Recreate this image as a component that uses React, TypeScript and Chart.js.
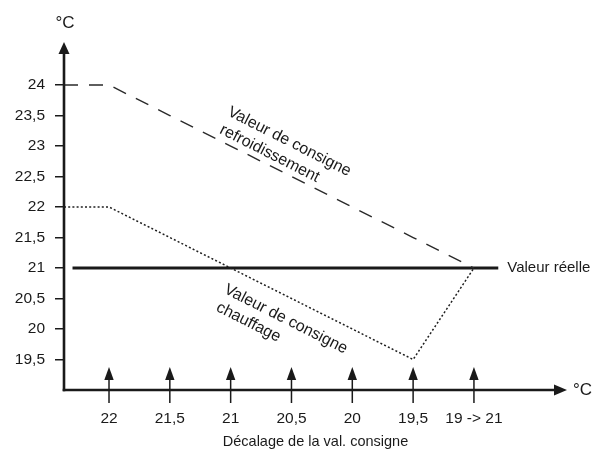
import React, { useEffect, useRef } from "react";
import { Chart, registerables } from "chart.js";

Chart.register(...registerables);

// ---- data ----
const categories = ["22", "21,5", "21", "20,5", "20", "19,5", "19 -> 21"];
const coolingSetpoint = [24, 23.5, 23, 22.5, 22, 21.5, 21];
const heatingSetpoint = [22, 21.5, 21, 20.5, 20, 19.5, 21];
const actualValue = 21;
const actualSpan = [-0.6, 6.4];
const yTickValues = [19.5, 20, 20.5, 21, 21.5, 22, 22.5, 23, 23.5, 24];
const xRange = [-0.74, 7.53];
const yRange = [19, 24.705];

const FONT = "'Liberation Sans', Arial, Helvetica, sans-serif";
const INK = "#1a1a1a";

const overlay = {
  id: "overlay",
  afterDraw(chart: any) {
    const { ctx, chartArea: a, scales } = chart;
    const x = scales.x;
    const y = scales.y;
    ctx.save();
    ctx.strokeStyle = INK;
    ctx.fillStyle = INK;

    // y axis with arrow
    ctx.lineWidth = 2.6;
    ctx.beginPath();
    ctx.moveTo(a.left, a.bottom + 1.3);
    ctx.lineTo(a.left, a.top + 10);
    ctx.stroke();
    ctx.beginPath();
    ctx.moveTo(a.left, a.top);
    ctx.lineTo(a.left - 5.5, a.top + 12);
    ctx.lineTo(a.left + 5.5, a.top + 12);
    ctx.closePath();
    ctx.fill();

    // x axis with arrow
    ctx.beginPath();
    ctx.moveTo(a.left - 1.3, a.bottom);
    ctx.lineTo(a.right - 10, a.bottom);
    ctx.stroke();
    ctx.beginPath();
    ctx.moveTo(a.right, a.bottom);
    ctx.lineTo(a.right - 13, a.bottom - 5.5);
    ctx.lineTo(a.right - 13, a.bottom + 5.5);
    ctx.closePath();
    ctx.fill();

    // unit labels
    ctx.font = `17px ${FONT}`;
    ctx.textBaseline = "middle";
    ctx.textAlign = "center";
    ctx.fillText("°C", a.left + 1, a.top - 19);
    ctx.textAlign = "left";
    ctx.fillText("°C", a.right + 6, a.bottom);

    // small arrows at each category
    categories.forEach((_, i) => {
      const px = x.getPixelForValue(i);
      ctx.lineWidth = 1.5;
      ctx.beginPath();
      ctx.moveTo(px, a.bottom + 13);
      ctx.lineTo(px, a.bottom - 11);
      ctx.stroke();
      ctx.beginPath();
      ctx.moveTo(px, a.bottom - 23);
      ctx.lineTo(px - 4.7, a.bottom - 10);
      ctx.lineTo(px + 4.7, a.bottom - 10);
      ctx.closePath();
      ctx.fill();
    });

    // actual value label
    ctx.textAlign = "left";
    ctx.textBaseline = "middle";
    ctx.font = `15px ${FONT}`;
    ctx.fillText(
      "Valeur réelle",
      x.getPixelForValue(actualSpan[1]) + 9,
      y.getPixelForValue(actualValue)
    );

    // rotated annotations
    const angle = (26.8 * Math.PI) / 180;
    const drawRot = (bx: number, by: number, lines: string[]) => {
      ctx.save();
      ctx.translate(bx, by);
      ctx.rotate(angle);
      ctx.textAlign = "left";
      ctx.textBaseline = "alphabetic";
      ctx.font = `16px ${FONT}`;
      lines.forEach((l, k) => ctx.fillText(l, k * 1, k * 19.5));
      ctx.restore();
    };
    drawRot(
      x.getPixelForValue(2) - 4,
      y.getPixelForValue(coolingSetpoint[2]) - 31,
      ["Valeur de consigne", "refroidissement"]
    );
    drawRot(
      x.getPixelForValue(2) - 7.5,
      y.getPixelForValue(heatingSetpoint[2]) + 24.6,
      ["Valeur de consigne", "chauffage"]
    );

    ctx.restore();
  },
};

export default function App() {
  const ref = useRef<HTMLCanvasElement | null>(null);
  useEffect(() => {
    if (!ref.current) return;
    const cooling = [
      { x: xRange[0], y: coolingSetpoint[0] },
      ...coolingSetpoint.map((v, i) => ({ x: i, y: v })),
    ];
    const heating = [
      { x: xRange[0], y: heatingSetpoint[0] },
      ...heatingSetpoint.map((v, i) => ({ x: i, y: v })),
    ];
    const actual = actualSpan.map((v) => ({ x: v, y: actualValue }));
    const chart = new Chart(ref.current, {
      type: "line",
      data: {
        datasets: [
          {
            label: "Valeur de consigne refroidissement",
            data: cooling,
            borderColor: "#2a2a2a",
            borderWidth: 1.4,
            borderDash: [14, 11],
            pointRadius: 0,
            tension: 0,
            fill: false,
          },
          {
            label: "Valeur de consigne chauffage",
            data: heating,
            borderColor: "#1f1f1f",
            borderWidth: 1.5,
            borderDash: [2, 2.2],
            pointRadius: 0,
            tension: 0,
            fill: false,
          },
          {
            label: "Valeur réelle",
            data: actual,
            borderColor: INK,
            borderWidth: 3,
            pointRadius: 0,
            tension: 0,
            fill: false,
          },
        ],
      },
      options: {
        responsive: false,
        animation: false,
        events: [],
        layout: { padding: { top: 42, right: 33, left: 0, bottom: 0 } },
        plugins: {
          legend: { display: false },
          tooltip: { enabled: false },
          title: { display: false },
        },
        scales: {
          x: {
            type: "linear",
            min: xRange[0],
            max: xRange[1],
            grid: { display: false, drawTicks: false },
            border: { display: false },
            afterBuildTicks: (s: any) => {
              s.ticks = categories.map((_, i) => ({ value: i }));
            },
            afterFit: (s: any) => {
              s.height = 61;
            },
            ticks: {
              autoSkip: false,
              maxRotation: 0,
              padding: 19,
              color: INK,
              font: { family: FONT, size: 15.5 },
              callback: (_v: any, i: number) => categories[i],
            },
            title: {
              display: true,
              text: "Décalage de la val. consigne",
              color: INK,
              font: { family: FONT, size: 14.5 },
              padding: { top: 0, bottom: 0 },
            },
          },
          y: {
            type: "linear",
            min: yRange[0],
            max: yRange[1],
            grid: {
              display: true,
              drawOnChartArea: false,
              drawTicks: true,
              tickLength: 9,
              color: INK,
              lineWidth: 1.5,
            },
            border: { display: false },
            afterBuildTicks: (s: any) => {
              s.ticks = yTickValues.map((v) => ({ value: v }));
            },
            afterFit: (s: any) => {
              s.width = 64;
            },
            ticks: {
              autoSkip: false,
              padding: 10,
              color: INK,
              font: { family: FONT, size: 15.5 },
              callback: (v: any) => String(v).replace(".", ","),
            },
          },
        },
      },
      plugins: [overlay],
    });
    return () => chart.destroy();
  }, []);
  return (
    <div style={{ position: "absolute", left: 0, top: 0, width: 600, height: 451, background: "#fff" }}>
      <canvas ref={ref} width={600} height={451} style={{ display: "block" }} />
    </div>
  );
}
